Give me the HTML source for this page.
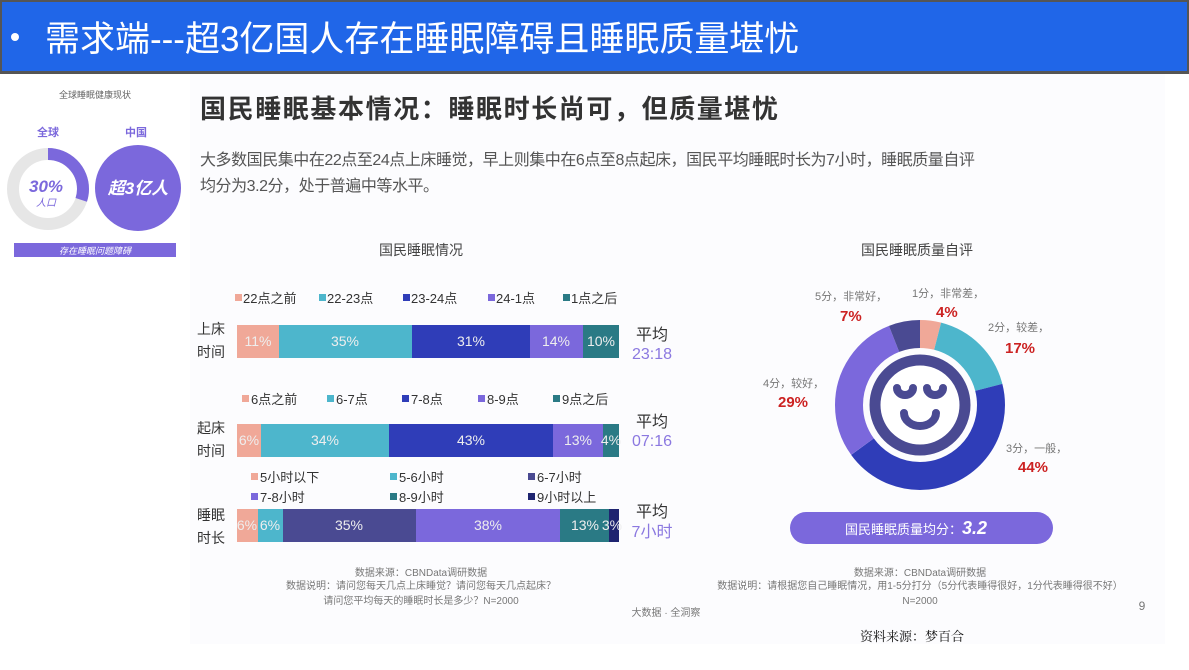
<!DOCTYPE html>
<html><head><meta charset="utf-8"><style>
body{margin:0;background:#fff;width:1189px;height:670px;overflow:hidden}
svg{display:block;font-family:"Liberation Sans","Noto Sans CJK SC",sans-serif}
</style></head><body>
<svg width="1189" height="670" viewBox="0 0 1189 670">
<rect width="1189" height="670" fill="#fff"/>
<rect x="0" y="0" width="1189" height="74" fill="#555"/>
<rect x="2" y="2" width="1185" height="69" fill="#2066e8"/>
<circle cx="15" cy="37" r="4" fill="#fff"/>
<text x="45" y="51" font-size="35" fill="#fff">需求端---超3亿国人存在睡眠障碍且睡眠质量堪忧</text>
<rect x="190" y="74" width="975" height="570" fill="#fcfcfe"/>
<!-- left panel -->
<text x="95" y="98" font-size="9" fill="#666" text-anchor="middle">全球睡眠健康现状</text>
<text x="48" y="136" font-size="11" font-weight="bold" fill="#7b68dc" text-anchor="middle">全球</text>
<text x="136" y="136" font-size="11" font-weight="bold" fill="#7b68dc" text-anchor="middle">中国</text>
<circle cx="48" cy="189" r="35" fill="none" stroke="#e6e6e6" stroke-width="12"/>
<circle cx="48" cy="189" r="35" fill="none" stroke="#7b68dc" stroke-width="12" stroke-dasharray="66 220" transform="rotate(-90 48 189)"/>
<text x="46" y="192" font-size="17" font-style="italic" font-weight="bold" fill="#7b68dc" text-anchor="middle">30%</text>
<text x="46" y="206" font-size="10" font-style="italic" fill="#7b68dc" text-anchor="middle">人口</text>
<circle cx="138" cy="188" r="43" fill="#7b68dc"/>
<text x="138" y="194" font-size="17" font-style="italic" font-weight="bold" fill="#fff" text-anchor="middle">超3亿人</text>
<rect x="14" y="243" width="162" height="14" fill="#7b68dc"/>
<text x="95" y="254" font-size="9" font-style="italic" fill="#fff" text-anchor="middle">存在睡眠问题障碍</text>
<!-- titles -->
<text x="200" y="118" font-size="26" font-weight="bold" fill="#333" letter-spacing="1.6">国民睡眠基本情况：睡眠时长尚可，但质量堪忧</text>
<text x="200" y="165" font-size="16" fill="#555" letter-spacing="-0.45">大多数国民集中在22点至24点上床睡觉，早上则集中在6点至8点起床，国民平均睡眠时长为7小时，睡眠质量自评</text>
<text x="200" y="191" font-size="16" fill="#555" letter-spacing="-0.45">均分为3.2分，处于普遍中等水平。</text>
<text x="421" y="255" font-size="14" fill="#444" text-anchor="middle">国民睡眠情况</text>
<text x="917" y="255" font-size="14" fill="#444" text-anchor="middle">国民睡眠质量自评</text>
<g font-size="13" fill="#333">
<rect x="235" y="294" width="7" height="7" fill="#f0a898"/><text x="243" y="303">22点之前</text>
<rect x="319" y="294" width="7" height="7" fill="#4db6cc"/><text x="327" y="303">22-23点</text>
<rect x="403" y="294" width="7" height="7" fill="#2f3db8"/><text x="411" y="303">23-24点</text>
<rect x="488" y="294" width="7" height="7" fill="#7b68dc"/><text x="496" y="303">24-1点</text>
<rect x="563" y="294" width="7" height="7" fill="#2a7a85"/><text x="571" y="303">1点之后</text>
<rect x="242" y="395" width="7" height="7" fill="#f0a898"/><text x="251" y="404">6点之前</text>
<rect x="327" y="395" width="7" height="7" fill="#4db6cc"/><text x="336" y="404">6-7点</text>
<rect x="402" y="395" width="7" height="7" fill="#2f3db8"/><text x="411" y="404">7-8点</text>
<rect x="478" y="395" width="7" height="7" fill="#7b68dc"/><text x="487" y="404">8-9点</text>
<rect x="553" y="395" width="7" height="7" fill="#2a7a85"/><text x="562" y="404">9点之后</text>
<rect x="251" y="473" width="7" height="7" fill="#f0a898"/><text x="260" y="482">5小时以下</text>
<rect x="390" y="473" width="7" height="7" fill="#4db6cc"/><text x="399" y="482">5-6小时</text>
<rect x="528" y="473" width="7" height="7" fill="#4a4a92"/><text x="537" y="482">6-7小时</text>
<rect x="251" y="493" width="7" height="7" fill="#7b68dc"/><text x="260" y="502">7-8小时</text>
<rect x="390" y="493" width="7" height="7" fill="#2a7a85"/><text x="399" y="502">8-9小时</text>
<rect x="528" y="493" width="7" height="7" fill="#1e2470"/><text x="537" y="502">9小时以上</text>
</g>
<g font-size="14" fill="#333">
<text x="197" y="334">上床</text><text x="197" y="357">时间</text>
<text x="197" y="433">起床</text><text x="197" y="456">时间</text>
<text x="197" y="520">睡眠</text><text x="197" y="543">时长</text>
</g>
<g>
<rect x="237" y="325" width="42" height="33" fill="#f0a898"/>
<rect x="279" y="325" width="133" height="33" fill="#4db6cc"/>
<rect x="412" y="325" width="118" height="33" fill="#2f3db8"/>
<rect x="530" y="325" width="53" height="33" fill="#7b68dc"/>
<rect x="583" y="325" width="36" height="33" fill="#2a7a85"/>
<rect x="237" y="424" width="24" height="33" fill="#f0a898"/>
<rect x="261" y="424" width="128" height="33" fill="#4db6cc"/>
<rect x="389" y="424" width="164" height="33" fill="#2f3db8"/>
<rect x="553" y="424" width="50" height="33" fill="#7b68dc"/>
<rect x="603" y="424" width="16" height="33" fill="#2a7a85"/>
<rect x="237" y="509" width="21" height="33" fill="#f0a898"/>
<rect x="258" y="509" width="25" height="33" fill="#4db6cc"/>
<rect x="283" y="509" width="133" height="33" fill="#4a4a92"/>
<rect x="416" y="509" width="144" height="33" fill="#7b68dc"/>
<rect x="560" y="509" width="49" height="33" fill="#2a7a85"/>
<rect x="609" y="509" width="10" height="33" fill="#1e2470"/>
</g>
<g font-size="14" fill="#eee" text-anchor="middle">
<text x="258" y="346">11%</text><text x="345" y="346">35%</text><text x="471" y="346">31%</text><text x="556" y="346">14%</text><text x="601" y="346">10%</text>
<text x="249" y="445">6%</text><text x="325" y="445">34%</text><text x="471" y="445">43%</text><text x="578" y="445">13%</text><text x="611" y="445">4%</text>
<text x="247" y="530">6%</text><text x="270" y="530">6%</text><text x="349" y="530">35%</text><text x="488" y="530">38%</text><text x="585" y="530">13%</text><text x="612" y="530">3%</text>
</g>
<g font-size="16" text-anchor="middle">
<text x="652" y="340" fill="#333">平均</text><text x="652" y="359" fill="#8b78e0">23:18</text>
<text x="652" y="427" fill="#333">平均</text><text x="652" y="446" fill="#8b78e0">07:16</text>
<text x="652" y="517" fill="#333">平均</text><text x="652" y="537" fill="#8b78e0">7小时</text>
</g>
<!-- donut -->
<g fill="none" stroke-width="28" transform="rotate(-90 920 405)">
<circle cx="920" cy="405" r="71" stroke="#f0a898" stroke-dasharray="17.84 500"/>
<circle cx="920" cy="405" r="71" stroke="#4db6cc" stroke-dasharray="75.84 500" stroke-dashoffset="-17.84"/>
<circle cx="920" cy="405" r="71" stroke="#2f3db8" stroke-dasharray="196.3 500" stroke-dashoffset="-93.68"/>
<circle cx="920" cy="405" r="71" stroke="#7b68dc" stroke-dasharray="129.4 500" stroke-dashoffset="-290"/>
<circle cx="920" cy="405" r="71" stroke="#4a4a92" stroke-dasharray="31.2 500" stroke-dashoffset="-419.4"/>
</g>
<circle cx="920" cy="405" r="45" fill="#fff" stroke="#4a4a92" stroke-width="11"/>
<g fill="none" stroke="#4a4a92" stroke-width="8" stroke-linecap="round">
<path d="M897 388 a8 7 0 0 0 16 0"/><path d="M927 388 a8 7 0 0 0 16 0"/>
<path d="M904 413 a16 13 0 0 0 32 0"/>
</g>
<g font-size="11" fill="#777">
<text x="815" y="300">5分，非常好，</text><text x="912" y="297">1分，非常差，</text>
<text x="988" y="331">2分，较差，</text><text x="763" y="387">4分，较好，</text><text x="1006" y="452">3分，一般，</text>
</g>
<g font-size="15" font-weight="bold" fill="#cc2222">
<text x="840" y="321">7%</text><text x="936" y="317">4%</text><text x="1005" y="353">17%</text><text x="778" y="407">29%</text><text x="1018" y="472">44%</text>
</g>
<rect x="790" y="512" width="263" height="32" rx="16" fill="#7b68dc"/>
<text x="845" y="534" font-size="13" fill="#fff">国民睡眠质量均分：<tspan font-size="18" font-weight="bold" font-style="italic">3.2</tspan></text>
<!-- footnotes -->
<g font-size="10" fill="#777" text-anchor="middle">
<text x="421" y="576">数据来源：CBNData调研数据</text>
<text x="421" y="589">数据说明：请问您每天几点上床睡觉？请问您每天几点起床？</text>
<text x="421" y="604">请问您平均每天的睡眠时长是多少？N=2000</text>
<text x="920" y="576">数据来源：CBNData调研数据</text>
<text x="920" y="589">数据说明：请根据您自己睡眠情况，用1-5分打分（5分代表睡得很好，1分代表睡得很不好）</text>
<text x="920" y="604">N=2000</text>
<text x="666" y="616">大数据 · 全洞察</text>
<text x="1142" y="610" font-size="12">9</text>
</g>
<text x="912" y="641" font-size="13" fill="#111" text-anchor="middle" font-family="'Noto Serif CJK SC',serif">资料来源：梦百合</text>
</svg>
</body></html>
